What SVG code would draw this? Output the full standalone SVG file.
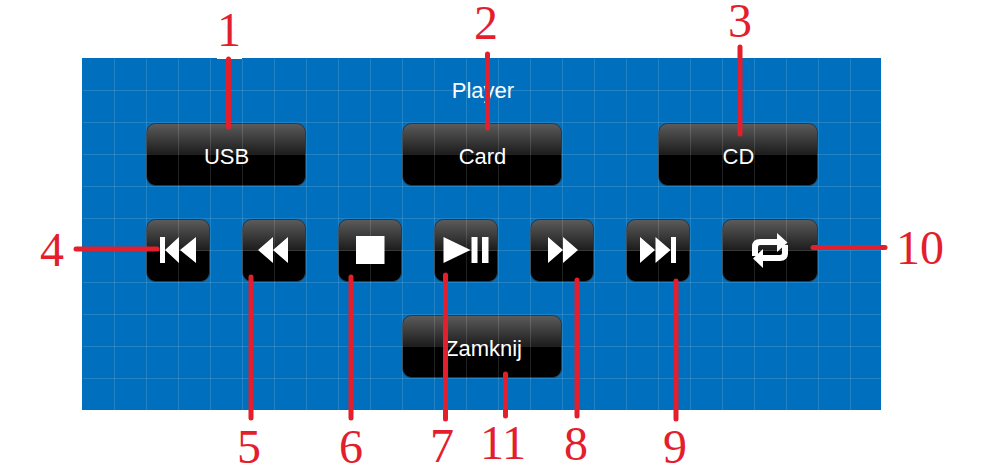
<svg xmlns="http://www.w3.org/2000/svg" width="987" height="473" viewBox="0 0 987 473">
<style>
.btn{fill:url(#gloss);stroke:#26384a;stroke-width:1}
.lbl{font-family:"Liberation Sans",Arial,sans-serif;font-size:22px;fill:#fff;text-anchor:middle}
.num{font-family:"Liberation Serif","Times New Roman",serif;font-size:48px;fill:#e31e2d;text-anchor:middle}
.ic{fill:#fff}
.con{stroke:#e31e2d;stroke-width:5;stroke-linecap:round;fill:none}
.grid{stroke:#fff;stroke-opacity:.13;stroke-width:1;fill:none}
</style>
<defs>
<linearGradient id="gloss" x1="0" y1="0" x2="0" y2="1">
<stop offset="0" stop-color="#5c5c5c"/><stop offset=".5" stop-color="#1c1c1c"/><stop offset=".5" stop-color="#000"/><stop offset="1" stop-color="#000"/>
</linearGradient>
<pattern id="gridp" x="83" y="59" width="32" height="32" patternUnits="userSpaceOnUse">
<path class="grid" d="M31.500 0V32M0 31.500H32"/>
</pattern>
</defs>
<rect width="987" height="473" fill="#fff"/>
<rect id="panel" x="82" y="58" width="799" height="352" fill="#006fbd"/>
<rect x="217" y="57" width="25" height="2" fill="#fff"/>
<text class="lbl" x="483" y="98">Player</text>
<g id="usb"><rect class="btn" x="146.500" y="123.500" width="159" height="62" rx="9"/><text class="lbl" x="226.500" y="164">USB</text></g>
<g id="card"><rect class="btn" x="402.500" y="123.500" width="159" height="62" rx="9"/><text class="lbl" x="482.500" y="164">Card</text></g>
<g id="cd"><rect class="btn" x="658.500" y="123.500" width="159" height="62" rx="9"/><text class="lbl" x="738.500" y="164">CD</text></g>
<g id="prev"><rect class="btn" x="146.500" y="219.500" width="63" height="62" rx="9"/><path class="ic" d="M160 237h5v26h-5zM165 250l14-13v26zM180 250l16-13v26z"/></g>
<g id="rew"><rect class="btn" x="242.500" y="219.500" width="63" height="62" rx="9"/><path class="ic" d="M258 250l15-13v26zM273 250l15-13v26z"/></g>
<g id="stop"><rect class="btn" x="338.500" y="219.500" width="63" height="62" rx="9"/><rect class="ic" x="356" y="236" width="28.500" height="28"/></g>
<g id="play"><rect class="btn" x="434.500" y="219.500" width="63" height="62" rx="9"/><path class="ic" d="M443.500 237l27 13-27 13zM471.500 237h6v26h-6zM482 237h6.500v26H482z"/></g>
<g id="ff"><rect class="btn" x="530.500" y="219.500" width="63" height="62" rx="9"/><path class="ic" d="M548 237l15 13-15 13zM563 237l15 13-15 13z"/></g>
<g id="next"><rect class="btn" x="626.500" y="219.500" width="63" height="62" rx="9"/><path class="ic" d="M640 237l15 13-15 13zM655.500 237l15 13-15 13zM671 237h5v26h-5z"/></g>
<g id="repeat"><rect class="btn" x="722.500" y="219.500" width="95" height="62" rx="9"/>
<path d="M755 256V247Q755 242 760 242H778M785 245V253Q785 258 780 258H762" fill="none" stroke="#fff" stroke-width="6"/>
<path class="ic" d="M777 233L787.500 242.500 777 252zM763 249L753 258.500 763 268z"/></g>
<g id="close"><rect class="btn" x="402.500" y="315.500" width="159" height="62" rx="9"/><text class="lbl" x="483.500" y="356">Zamknij</text></g>
<rect x="83" y="59" width="798" height="351" fill="url(#gridp)"/>
<g id="connectors">
<path class="con" d="M228.500 59V127"/>
<path class="con" d="M487.500 54V128"/>
<path class="con" d="M740 47V134"/>
<path class="con" d="M76 249H157"/>
<path class="con" d="M251 277V418"/>
<path class="con" d="M351 277V418"/>
<path class="con" d="M445.500 275V419"/>
<path class="con" d="M577 280V416"/>
<path class="con" d="M676 281V419"/>
<path class="con" d="M813 247.500H885"/>
<path class="con" d="M505.500 374V416"/>
</g>
<g id="numbers">
<text class="num" x="229" y="46">1</text>
<text class="num" x="486" y="39">2</text>
<text class="num" x="740" y="37">3</text>
<text class="num" x="52" y="266">4</text>
<text class="num" x="249" y="463">5</text>
<text class="num" x="351" y="463">6</text>
<text class="num" x="442" y="462">7</text>
<text class="num" x="503" y="459">11</text>
<text class="num" x="576" y="460">8</text>
<text class="num" x="675" y="463">9</text>
<text class="num" x="920" y="264">10</text>
</g>
</svg>
